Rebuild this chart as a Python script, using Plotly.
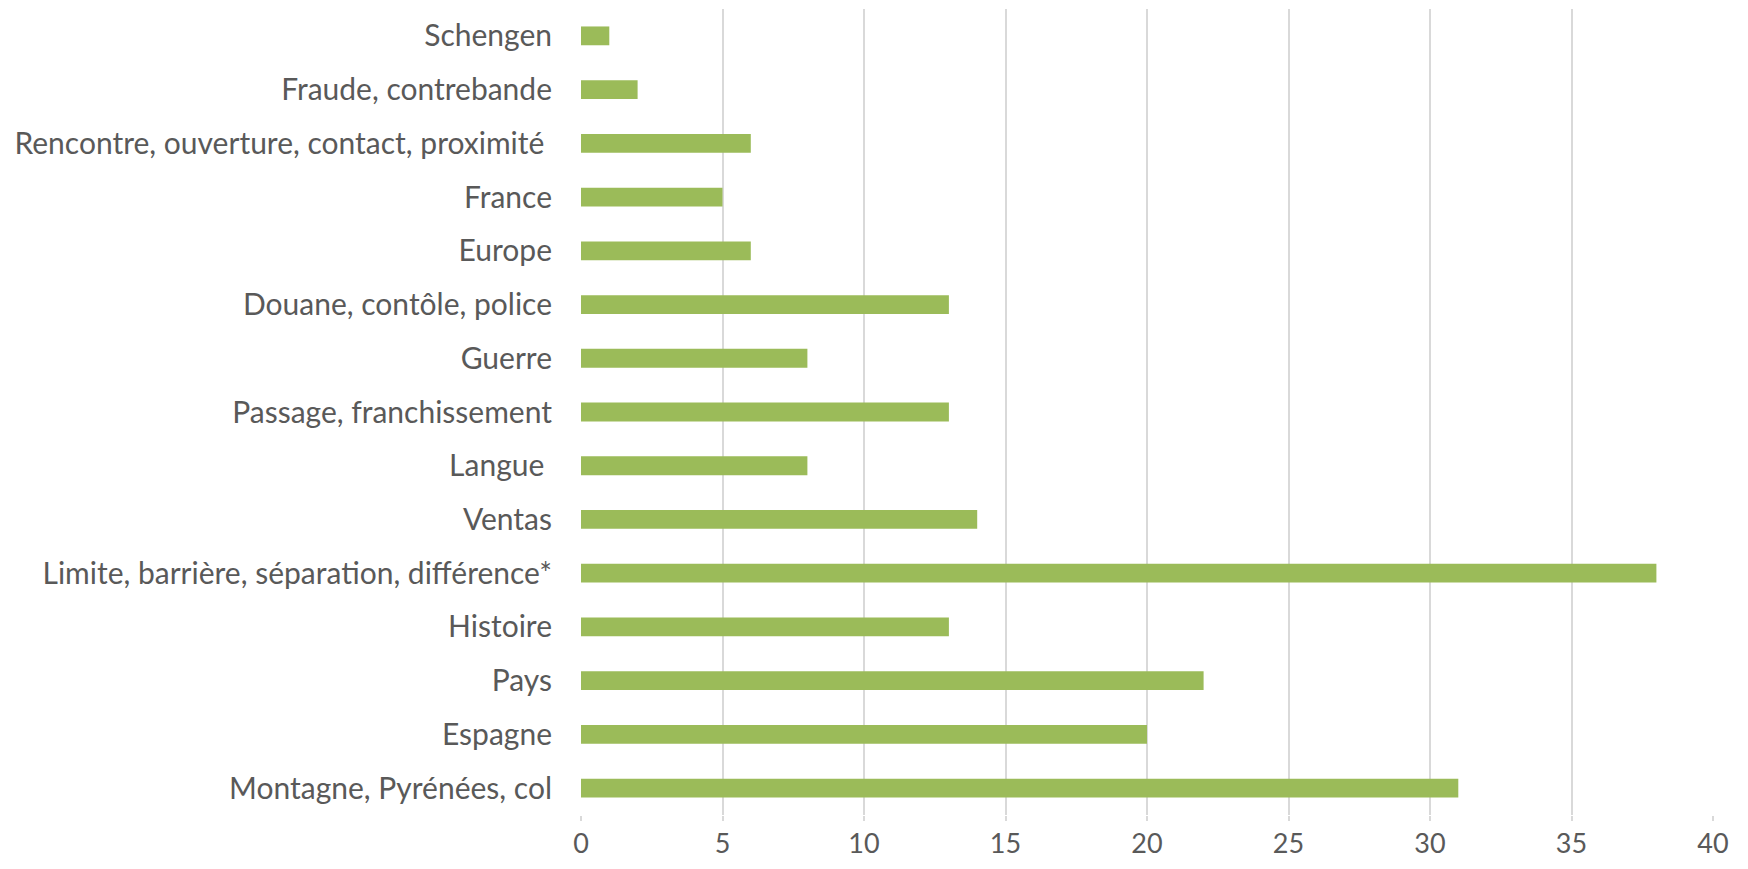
import plotly.graph_objects as go

# categories, bottom to top as in the chart
themes = [
    "Montagne, Pyrénées, col",
    "Espagne",
    "Pays",
    "Histoire",
    "Limite, barrière, séparation, différence*",
    "Ventas",
    "Langue\u00a0",
    "Passage, franchissement",
    "Guerre",
    "Douane, contôle, police",
    "Europe",
    "France",
    "Rencontre, ouverture, contact, proximité\u00a0",
    "Fraude, contrebande",
    "Schengen",
]
counts = [31, 20, 22, 13, 38, 14, 8, 13, 8, 13, 6, 5, 6, 2, 1]
x_ticks = [0, 5, 10, 15, 20, 25, 30, 35, 40]

fig = go.Figure(
    go.Bar(
        x=counts,
        y=themes,
        orientation="h",
        marker=dict(color="#9BBB59", line=dict(width=0)),
    )
)

# page body has an 8px margin, so the figure is a bit smaller than the window
fig.update_layout(
    width=1732,
    height=853,
    plot_bgcolor="white",
    paper_bgcolor="white",
    margin=dict(l=573, r=27, t=1, b=46),
    bargap=0.65,
    showlegend=False,
    font=dict(family="Lato, 'Open Sans', sans-serif", size=30, color="#595959"),
)
fig.update_xaxes(
    range=[0, 40],
    tickvals=x_ticks,
    tickfont=dict(size=27),
    showgrid=True,
    gridcolor="#D9D9D9",
    gridwidth=1.5,
    zeroline=False,
    showline=False,
    ticks="outside",
    ticklen=5,
    tickwidth=1.5,
    tickcolor="#D9D9D9",
    ticklabelstandoff=0,
    automargin=False,
)
fig.update_yaxes(
    showgrid=False,
    showline=False,
    ticks="",
    ticklabelstandoff=28,
    automargin=False,
)

fig.write_html("out.html")
